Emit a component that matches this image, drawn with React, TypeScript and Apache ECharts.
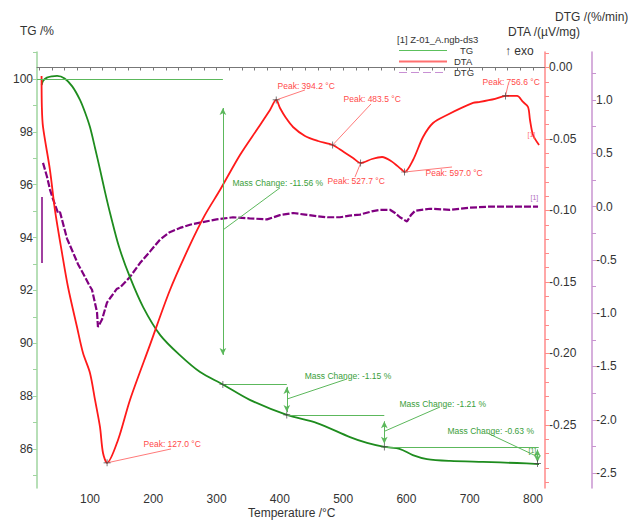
import React, { useEffect, useRef } from "react";
import * as echarts from "echarts";

// ---------- data ----------
const tgData: [number, number][] = [
  [23.7, 99.77], [26, 99.93], [32, 100.05], [40, 100.1], [48, 100.12], [60, 100.02],
  [72, 99.72], [84.2, 99.21], [92, 98.75], [100, 98.18], [108, 97.39], [116, 96.56],
  [124, 95.7], [132, 94.9], [146, 93.64], [163, 92.51], [184, 91.37], [211, 90.31],
  [242, 89.55], [274, 88.91], [310, 88.44], [352.5, 87.86], [411, 87.29], [458.7, 86.98],
  [510.8, 86.45], [537.7, 86.23], [565, 86.08], [590, 86.0], [610, 85.77], [632.5, 85.62],
  [668.8, 85.55], [720.9, 85.51], [774.7, 85.47], [809.5, 85.43],
];

const dtaData: [number, number][] = [
  [23.5, -0.006], [24, -0.028], [25.8, -0.0416], [36.8, -0.0717], [44.7, -0.0997],
  [55.8, -0.1297], [65.3, -0.1535], [79.5, -0.1815], [89, -0.1997], [100, -0.2136],
  [108, -0.2325], [115.8, -0.2514], [120.6, -0.2696], [127, -0.2765], [144.3, -0.2605],
  [163.2, -0.2325], [194.8, -0.194], [226.4, -0.1556], [258, -0.1241], [281.7, -0.1031],
  [305.4, -0.0857], [337, -0.0612], [365.5, -0.0423], [384.4, -0.0297],
  [394.2, -0.0227], [400.2, -0.0283], [409.7, -0.0353], [420.8, -0.0416], [439.7, -0.0479],
  [460.3, -0.0514], [483.5, -0.0542], [501, -0.0591], [515.6, -0.0633], [527.7, -0.0668],
  [545.6, -0.064], [561.4, -0.0626], [575.6, -0.0654], [591.4, -0.071], [597, -0.0731],
  [610.4, -0.0647], [626.2, -0.0486], [642, -0.0388], [664.1, -0.0332], [705.2, -0.0248],
  [716.2, -0.0241], [740, -0.022], [756.6, -0.0199], [774.7, -0.0199], [784.2, -0.0241],
  [792.1, -0.0276], [795.2, -0.0367], [800, -0.0472], [809.5, -0.0542],
];

const dtgData: [number, number][] = [
  [25.8, 0.41], [32.1, 0.28], [36.8, 0.16], [41.6, 0.07], [49.5, -0.06], [52.6, -0.05],
  [63.7, -0.3], [73.2, -0.43], [81.1, -0.54], [92.1, -0.66], [100, -0.75], [103.2, -0.78],
  [111.1, -0.99], [112.6, -1.13], [119, -1.06], [126.9, -0.9], [131.6, -0.86],
  [142.7, -0.77], [147.4, -0.76], [163.2, -0.66], [179, -0.53], [195, -0.42], [210.6, -0.31],
  [226, -0.24], [242.2, -0.2], [258, -0.17], [273.8, -0.15], [300, -0.12], [326, -0.1],
  [352, -0.11], [379.7, -0.12], [400, -0.08], [420.8, -0.06], [440, -0.075], [458.7, -0.09],
  [475, -0.1], [495, -0.1], [510, -0.085], [526.6, -0.075], [545, -0.045], [558.2, -0.03],
  [574, -0.03], [582, -0.06], [589.8, -0.1], [600.9, -0.14], [607, -0.08], [613.5, -0.04],
  [637.2, -0.02], [668.8, -0.03], [700.4, -0.01], [732, 0.0], [763.6, 0.0], [807.9, 0.0],
];
const dtgStartSegment: [number, number][] = [[24.2, 0.09], [24.2, -0.53]];

const xLabels = [100, 200, 300, 400, 500, 600, 700, 800];
const tgLabels = [86, 88, 90, 92, 94, 96, 98, 100];
const dtaLabels = [-0.25, -0.2, -0.15, -0.1, -0.05, 0.0];
const dtgLabels = [-2.5, -2.0, -1.5, -1.0, -0.5, 0.0, 0.5, 1.0];

// mass change steps [T, TG]
const massSteps: [number, number][] = [[310, 88.44], [411, 87.29], [565, 86.08], [807, 85.45]];
const massTexts = ["Mass Change: -11.56 %", "Mass Change: -1.15 %", "Mass Change: -1.21 %", "Mass Change: -0.63 %"];
const massTextPos: [number, number][] = [[324.4, 96.07], [438.5, 88.76], [588.2, 87.7], [664.1, 86.68]];
const massLeaderFrom: [number, number][] = [[400.2, 95.88], [506.1, 88.65], [653, 87.59], [727.3, 86.61]];
const massLeaderTo: [number, number][] = [[310.2, 94.29], [411.3, 87.89], [566.1, 86.68], [807.9, 85.7]];

// DTA peaks [T, DTA]
const peaks: [number, number][] = [[127, -0.2765], [394.2, -0.0227], [483.5, -0.0542], [527.7, -0.0668], [597, -0.0731], [756.6, -0.0199]];
const peakTexts = ["Peak: 127.0 °C", "Peak: 394.2 °C", "Peak: 483.5 °C", "Peak: 527.7 °C", "Peak: 597.0 °C", "Peak: 756.6 °C"];
const peakTextPos: [number, number][] = [[183.8, -0.2633], [395.5, -0.0129], [499.8, -0.022], [474.5, -0.0794], [629.3, -0.0738], [719.4, -0.0101]];
const peakLeaderTo: [number, number][] = [[228, -0.2668], [439.7, -0.0157], [544, -0.0255], [518.7, -0.0766], [672, -0.0696], [760.5, -0.0122]];

const FONT = "Liberation Sans, Arial, sans-serif";
const GREEN = "#1e8c1e";
const GREEN_L = "#5cb85c";
const RED = "#ff1a1a";
const RED_L = "#ff7a7a";
const PURPLE = "#800080";

const range = (a: number, b: number, s: number) => {
  const r: number[] = [];
  for (let v = a; v <= b + 1e-9; v += s) r.push(Math.round(v * 1000) / 1000);
  return r;
};

const cross = "path://M-0.5,-5H0.5V-0.5H5V0.5H0.5V5H-0.5V0.5H-5V-0.5H-0.5Z";

export default function App() {
  const ref = useRef<HTMLDivElement>(null);
  useEffect(() => {
    document.body.style.margin = "0";
    const chart = echarts.init(ref.current!, undefined, { renderer: "svg" });

    const tgLines: any[] = [];
    tgLines.push([{ coord: [16.3, 100] }, { coord: [massSteps[0][0], 100] }]);
    const levels = [massSteps[0], massSteps[1], massSteps[2]];
    const ends = [massSteps[1][0], massSteps[2][0], 809];
    levels.forEach((p, i) => tgLines.push([{ coord: [p[0], p[1]] }, { coord: [ends[i], p[1]] }]));
    const arrows: [number, number, number][] = [
      [310, 98.9, 89.56], [411, 88.35, 87.4], [565, 87.05, 86.2], [807, 85.98, 85.5],
    ];
    arrows.forEach((a) =>
      tgLines.push([
        { coord: [a[0], a[1]], symbol: "arrow", symbolSize: [5, 7] },
        { coord: [a[0], a[2]], symbol: "arrow", symbolSize: [5, 7] },
      ])
    );
    massLeaderFrom.forEach((f, i) => tgLines.push([{ coord: f }, { coord: massLeaderTo[i] }]));

    const tgPoints: any[] = massSteps.map((p) => ({
      coord: p, symbol: cross, symbolSize: 7, itemStyle: { color: "#444" },
    }));
    massTexts.forEach((t, i) =>
      tgPoints.push({
        coord: massTextPos[i], symbol: "circle", symbolSize: 1,
        itemStyle: { color: "rgba(0,0,0,0)" },
        label: { show: true, formatter: t, position: "right", distance: 0, color: "#3a9e3a", fontSize: 8.5, fontFamily: FONT },
      })
    );
    tgPoints.push({
      coord: [792, 85.93], symbol: "circle", symbolSize: 1, itemStyle: { color: "rgba(0,0,0,0)" },
      label: { show: true, formatter: "[1]", position: "right", distance: 0, color: "#3a9e3a", fontSize: 7, fontFamily: FONT },
    });

    const dtaLines: any[] = peaks.map((p, i) => [{ coord: p }, { coord: peakLeaderTo[i] }]);
    const dtaPoints: any[] = peaks.map((p) => ({
      coord: p, symbol: cross, symbolSize: 7, itemStyle: { color: "#444" },
    }));
    peakTexts.forEach((t, i) =>
      dtaPoints.push({
        coord: peakTextPos[i], symbol: "circle", symbolSize: 1, itemStyle: { color: "rgba(0,0,0,0)" },
        label: { show: true, formatter: t, position: "right", distance: 0, color: "#ff4a4a", fontSize: 8.5, fontFamily: FONT },
      })
    );
    dtaPoints.push({
      coord: [790.5, -0.0472], symbol: "circle", symbolSize: 1, itemStyle: { color: "rgba(0,0,0,0)" },
      label: { show: true, formatter: "[1]", position: "right", distance: 0, color: "#ff7070", fontSize: 7, fontFamily: FONT },
    });

    const dtgPoints: any[] = [{
      coord: [795.2, 0.09], symbol: "circle", symbolSize: 1, itemStyle: { color: "rgba(0,0,0,0)" },
      label: { show: true, formatter: "[1]", position: "right", distance: 0, color: "#b070c0", fontSize: 7, fontFamily: FONT },
    }];

    const labelStyle = { color: "#333", fontSize: 12, fontFamily: FONT };

    chart.setOption({
      animation: false,
      backgroundColor: "#fff",
      textStyle: { fontFamily: FONT },
      grid: { left: 37, right: 83, top: 52, bottom: 35, outerBoundsMode: "none" },
      xAxis: {
        type: "value", min: 16.3, max: 818.9,
        axisLine: { lineStyle: { color: "#777", width: 1 } },
        axisTick: { show: true, length: 3, lineStyle: { color: "#777" }, customValues: range(20, 800, 20) },
        axisLabel: { ...labelStyle, margin: 5, customValues: xLabels, formatter: (v: number) => String(v) },
        splitLine: { show: false },
      },
      yAxis: [
        {
          type: "value", position: "left", min: 84.525, max: 101.02,
          axisLine: { show: true, lineStyle: { color: "#9fd49f", width: 1.5 } },
          axisTick: { show: true, length: 4, lineStyle: { color: "#9fd49f" }, customValues: range(85, 101, 1) },
          axisLabel: { ...labelStyle, margin: 4, customValues: tgLabels, formatter: (v: number) => String(v) },
          splitLine: { show: false },
        },
        {
          type: "value", position: "right", offset: 0, min: -0.2941, max: 0.01084,
          axisLine: { show: true, lineStyle: { color: "#ff8a8a", width: 1.5 } },
          axisTick: { show: true, length: 4, lineStyle: { color: "#ff8a8a" }, customValues: range(-0.29, 0.01, 0.01) },
          axisLabel: { ...labelStyle, margin: 4, customValues: dtaLabels, formatter: (v: number) => v.toFixed(2) },
          splitLine: { show: false },
        },
        {
          type: "value", position: "right", offset: 47, min: -2.6404, max: 1.4507,
          axisLine: { show: true, lineStyle: { color: "#c894d0", width: 1.5 } },
          axisTick: { show: true, length: 4, lineStyle: { color: "#c894d0" }, customValues: range(-2.5, 1.25, 0.25) },
          axisLabel: { ...labelStyle, margin: 4, customValues: dtgLabels, formatter: (v: number) => v.toFixed(1) },
          splitLine: { show: false },
        },
      ],
      series: [
        {
          name: "TG", type: "line", yAxisIndex: 0, data: tgData, showSymbol: false, smooth: 0.3,
          lineStyle: { color: GREEN, width: 1.8 }, z: 3,
          markLine: { silent: true, symbol: ["none", "none"], label: { show: false }, lineStyle: { color: GREEN_L, width: 1, type: "solid" }, data: tgLines },
          markPoint: { silent: true, data: tgPoints },
        },
        {
          name: "DTA", type: "line", yAxisIndex: 1, data: dtaData, showSymbol: false, smooth: 0.3,
          lineStyle: { color: RED, width: 1.8 }, z: 3,
          markLine: { silent: true, symbol: ["none", "none"], label: { show: false }, lineStyle: { color: RED_L, width: 1, type: "solid" }, data: dtaLines },
          markPoint: { silent: true, data: dtaPoints },
        },
        {
          name: "DTG", type: "line", yAxisIndex: 2, data: dtgData, showSymbol: false,
          lineStyle: { color: PURPLE, width: 2.2, type: [7, 2] }, z: 2,
          markPoint: { silent: true, data: dtgPoints },
        },
        {
          name: "DTGstart", type: "line", yAxisIndex: 2, data: dtgStartSegment, showSymbol: false,
          lineStyle: { color: PURPLE, width: 1.5 }, z: 2,
        },
      ],
      graphic: [
        { type: "text", left: 20, top: 25, style: { text: "TG /%", fill: "#333", font: `12px ${FONT}` } },
        { type: "text", left: 555, top: 11, style: { text: "DTG /(%/min)", fill: "#333", font: `12px ${FONT}` } },
        { type: "text", left: 508, top: 26, style: { text: "DTA /(µV/mg)", fill: "#333", font: `12px ${FONT}` } },
        { type: "text", left: 505, top: 45, style: { text: "↑ exo", fill: "#333", font: `12px ${FONT}` } },
        { type: "text", left: 248, top: 507, style: { text: "Temperature /°C", fill: "#333", font: `12px ${FONT}` } },
        { type: "text", left: 397, top: 34, style: { text: "[1] Z-01_A.ngb-ds3", fill: "#333", font: `9.5px ${FONT}` } },
        { type: "text", left: 460, top: 45, style: { text: "TG", fill: "#333", font: `9.5px ${FONT}` } },
        { type: "text", left: 454, top: 56, style: { text: "DTA", fill: "#333", font: `9.5px ${FONT}` } },
        { type: "text", left: 454, top: 67, style: { text: "DTG", fill: "#333", font: `9.5px ${FONT}` } },
        { type: "line", shape: { x1: 399, y1: 50.5, x2: 447, y2: 50.5 }, style: { stroke: "#5cc05c", lineWidth: 1.2 } },
        { type: "line", shape: { x1: 399, y1: 61.5, x2: 447, y2: 61.5 }, style: { stroke: "#ff7070", lineWidth: 2 } },
        { type: "line", shape: { x1: 399, y1: 72.5, x2: 447, y2: 72.5 }, style: { stroke: "#c890d4", lineWidth: 1.2, lineDash: [8, 4] } },
      ],
    });
    return () => chart.dispose();
  }, []);
  return <div ref={ref} style={{ position: "absolute", left: 0, top: 0, width: 628, height: 523 }} />;
}
